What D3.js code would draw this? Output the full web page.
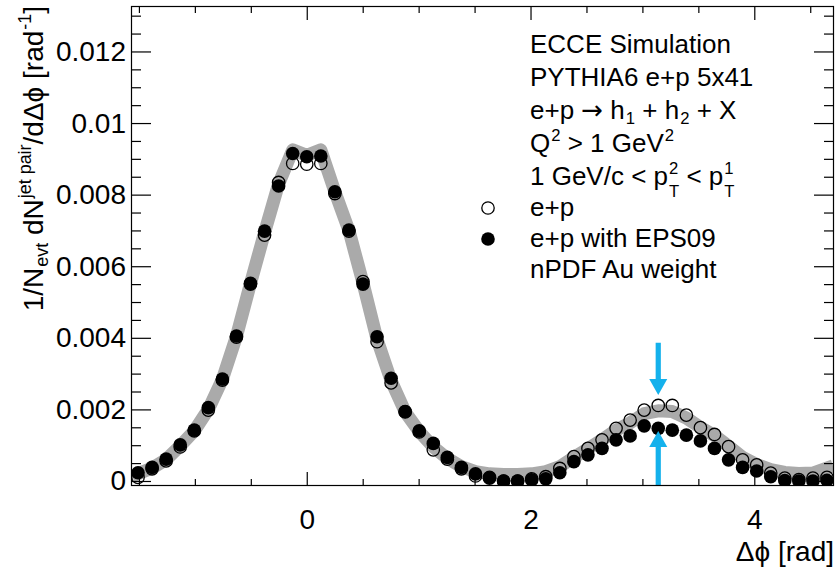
<!DOCTYPE html>
<html>
<head>
<meta charset="utf-8">
<script src="https://cdn.jsdelivr.net/npm/d3@7"></script>
<style>
  body { margin: 0; background: #fff; }
  svg { display: block; }
  text { font-family: "Liberation Sans", Arial, Helvetica, sans-serif; fill: #000; white-space: pre; }
</style>
</head>
<body>
<svg id="chart" width="836" height="571"></svg>
<script>
// Histogram binning in delta-phi: 50 bins over [-pi/2, 3pi/2]
const nBins = 50;
const phiMin = -Math.PI / 2;
const phiMax = 3 * Math.PI / 2;
const binCenters = d3.range(nBins).map(i => phiMin + (i + 0.5) * (phiMax - phiMin) / nBins);

// e+p (open circles)
const epValues = [
  0.00010, 0.00034, 0.00056, 0.00095, 0.00140, 0.00198, 0.00282, 0.00402, 0.00550, 0.00687,
  0.00834, 0.00887, 0.00885, 0.00887, 0.00803, 0.00698, 0.00557, 0.00389, 0.00274, 0.00193,
  0.00137, 0.00087, 0.00061, 0.00034, 0.00014, 0.00010, 0.00000, 0.00000, 0.00006, 0.00012,
  0.00035, 0.00068, 0.00091, 0.00115, 0.00147, 0.00170, 0.00198, 0.00211, 0.00211, 0.00184,
  0.00149, 0.00130, 0.00096, 0.00059, 0.00045, 0.00022, 0.00008, 0.00004, 0.00008, 0.00010
];

// e+p with EPS09 nPDF Au weight (filled circles)
const eps09Values = [
  0.00023, 0.00038, 0.00061, 0.00101, 0.00142, 0.00205, 0.00285, 0.00405, 0.00552, 0.00698,
  0.00824, 0.00915, 0.00906, 0.00908, 0.00808, 0.00701, 0.00550, 0.00403, 0.00287, 0.00194,
  0.00140, 0.00105, 0.00066, 0.00038, 0.00020, 0.00008, 0.00000, 0.00000, 0.00003, 0.00006,
  0.00023, 0.00054, 0.00073, 0.00091, 0.00115, 0.00126, 0.00154, 0.00147, 0.00142, 0.00128,
  0.00112, 0.00091, 0.00059, 0.00038, 0.00028, 0.00012, 0.00001, 0.00000, 0.00000, 0.00002
];

// Gray reference band drawn underneath the markers
const bandValues = [
  0.00020, 0.00036, 0.00060, 0.00098, 0.00140, 0.00200, 0.00284, 0.00404, 0.00552, 0.00694,
  0.00830, 0.00925, 0.00910, 0.00925, 0.00808, 0.00700, 0.00553, 0.00396, 0.00280, 0.00193,
  0.00138, 0.00095, 0.00063, 0.00040, 0.00026, 0.00020, 0.00018, 0.00018, 0.00020, 0.00026,
  0.00040, 0.00066, 0.00090, 0.00115, 0.00142, 0.00163, 0.00188, 0.00196, 0.00194, 0.00176,
  0.00150, 0.00127, 0.00097, 0.00066, 0.00046, 0.00032, 0.00024, 0.00021, 0.00022, 0.00036
];

// Axis ticks
const xTicksMajor = [0, 2, 4];
const xTicksMinor = [-1.5, -1, -0.5, 0.5, 1, 1.5, 2.5, 3, 3.5, 4.5];
const yTicksMajor = [0, 0.002, 0.004, 0.006, 0.008, 0.01, 0.012];
const yTicksMinor = [0.0005, 0.001, 0.0015, 0.0025, 0.003, 0.0035, 0.0045, 0.005, 0.0055,
  0.0065, 0.007, 0.0075, 0.0085, 0.009, 0.0095, 0.0105, 0.011, 0.0115, 0.0125, 0.013];
const yMin = -0.00014, yMax = 0.01327;

// Away-side arrows at delta-phi = pi
const arrowPhi = Math.PI;
const arrowDown = [0.00386, 0.00240];
const arrowUp = [yMin, 0.00140];

const svg = d3.select("#chart");
const frame = { left: 131, right: 834, top: 6, bottom: 486 };

const x = d3.scaleLinear().domain([phiMin, phiMax]).range([frame.left, frame.right]);
const y = d3.scaleLinear().domain([yMin, yMax]).range([frame.bottom, frame.top]);

svg.append("defs").append("clipPath").attr("id", "plotClip")
  .append("rect")
  .attr("x", frame.left).attr("y", frame.top)
  .attr("width", frame.right - frame.left).attr("height", frame.bottom - frame.top);

const plot = svg.append("g").attr("clip-path", "url(#plotClip)");

// gray band
plot.append("path")
  .datum(bandValues)
  .attr("fill", "none")
  .attr("stroke", "#aaaaaa")
  .attr("stroke-width", 13)
  .attr("stroke-linejoin", "round")
  .attr("stroke-linecap", "square")
  .attr("d", d3.line().x((d, i) => x(binCenters[i])).y(d => y(d)));

const markerR = 6.8;

// open markers
plot.append("g").selectAll("circle")
  .data(epValues)
  .join("circle")
  .attr("cx", (d, i) => x(binCenters[i]))
  .attr("cy", d => y(d))
  .attr("r", markerR - 0.6)
  .attr("fill", "none")
  .attr("stroke", "#000")
  .attr("stroke-width", 1.3);

// filled markers
plot.append("g").selectAll("circle")
  .data(eps09Values)
  .join("circle")
  .attr("cx", (d, i) => x(binCenters[i]))
  .attr("cy", d => y(d))
  .attr("r", markerR)
  .attr("fill", "#000");

// arrows
const arrowColor = "#14b1ec";
function drawArrow(from, to) {
  const ax = x(arrowPhi);
  const y0 = y(from), y1 = y(to);
  const dir = Math.sign(y1 - y0);
  const headLen = 16, headHalf = 9, shaftHalf = 2.6;
  const yb = y1 - dir * headLen;
  svg.append("path")
    .attr("fill", arrowColor)
    .attr("d", `M${ax - shaftHalf},${y0} L${ax + shaftHalf},${y0} L${ax + shaftHalf},${yb}
      L${ax + headHalf},${yb} L${ax},${y1} L${ax - headHalf},${yb} L${ax - shaftHalf},${yb} Z`);
}
drawArrow(arrowDown[0], arrowDown[1]);
drawArrow(arrowUp[0], arrowUp[1]);

// frame
svg.append("rect")
  .attr("x", frame.left + 0.5).attr("y", frame.top + 0.5)
  .attr("width", frame.right - frame.left - 1).attr("height", frame.bottom - frame.top - 1)
  .attr("fill", "none").attr("stroke", "#000").attr("stroke-width", 1.2);

// ticks on all four sides, pointing inward
function tickAxis(gen, transform) {
  const g = svg.append("g").attr("transform", transform).call(gen);
  g.select(".domain").remove();
  g.selectAll("line").attr("stroke", "#000").attr("stroke-width", 1.2);
  return g;
}
const labelSize = 28;
const xb = tickAxis(d3.axisBottom(x).tickValues(xTicksMajor).tickSize(-14).tickPadding(23)
  .tickFormat(d3.format("~g")), `translate(0,${frame.bottom})`);
xb.selectAll("text").attr("font-size", labelSize).attr("font-family", null);
tickAxis(d3.axisBottom(x).tickValues(xTicksMinor).tickSize(-7).tickFormat(""), `translate(0,${frame.bottom})`);
tickAxis(d3.axisTop(x).tickValues(xTicksMajor).tickSize(-14).tickFormat(""), `translate(0,${frame.top})`);
tickAxis(d3.axisTop(x).tickValues(xTicksMinor).tickSize(-7).tickFormat(""), `translate(0,${frame.top})`);

const yl = tickAxis(d3.axisLeft(y).tickValues(yTicksMajor).tickSize(-20).tickPadding(5)
  .tickFormat(d3.format("~g")), `translate(${frame.left},0)`);
yl.selectAll("text").attr("font-size", labelSize).attr("font-family", null);
tickAxis(d3.axisLeft(y).tickValues(yTicksMinor).tickSize(-10).tickFormat(""), `translate(${frame.left},0)`);
tickAxis(d3.axisRight(y).tickValues(yTicksMajor).tickSize(-20).tickFormat(""), `translate(${frame.right},0)`);
tickAxis(d3.axisRight(y).tickValues(yTicksMinor).tickSize(-10).tickFormat(""), `translate(${frame.right},0)`);

// text with sub/superscripts built from measured pieces
function richText(parent, px, py, parts, size, anchorEnd) {
  const outer = parent.append("g").attr("transform", `translate(${px},${py})`);
  const g = outer.append("g");
  const small = size * 0.64;
  let cx = 0;
  parts.forEach(p => {
    if (typeof p === "string") {
      const t = g.append("text").attr("x", cx).attr("y", 0).attr("font-size", size).text(p);
      cx += t.node().getComputedTextLength();
    } else if (p.sym !== undefined) {
      const t = g.append("text").attr("x", cx).attr("y", 0).attr("font-size", size)
        .style("font-family", "'DejaVu Sans', sans-serif").text(p.sym);
      cx += t.node().getComputedTextLength();
    } else {
      let w = 0;
      if (p.sup !== undefined) {
        const t = g.append("text").attr("x", cx + 1).attr("y", -size * 0.42).attr("font-size", small).text(p.sup);
        w = Math.max(w, t.node().getComputedTextLength() + 1);
      }
      if (p.sub !== undefined) {
        const t = g.append("text").attr("x", cx + 1)
          .attr("y", size * (p.sup !== undefined ? 0.47 : 0.18)).attr("font-size", small).text(p.sub);
        w = Math.max(w, t.node().getComputedTextLength() + 1);
      }
      cx += w;
    }
  });
  if (anchorEnd) g.attr("transform", `translate(${-cx},0)`);
  return outer;
}

// axis titles
richText(svg, frame.right, 561, ["\u0394\u03d5 [rad]"], labelSize, true);
const yTitle = richText(svg, 0, 0,
  ["1/N", { sub: "evt" }, " dN", { sup: "jet pair" }, "/d\u0394\u03d5 [rad", { sup: "-1" }, "]"], labelSize, true);
yTitle.attr("transform", `translate(43,${frame.top}) rotate(-90)`);

// legend block
const legendSize = 26;
const legendX = 530;
const legendLines = [
  { y: 53, parts: ["ECCE Simulation"] },
  { y: 86, parts: ["PYTHIA6 e+p 5x41"] },
  { y: 119, parts: ["e+p ", { sym: "\u2192" }, " h", { sub: "1" }, " + h", { sub: "2" }, " + X"] },
  { y: 152, parts: ["Q", { sup: "2" }, " > 1 GeV", { sup: "2" }] },
  { y: 185, parts: ["1 GeV/c < p", { sub: "T", sup: "2" }, " < p", { sub: "T", sup: "1" }] },
  { y: 216, parts: ["e+p"] },
  { y: 247, parts: ["e+p with EPS09"] },
  { y: 278, parts: ["nPDF Au weight"] }
];
legendLines.forEach(l => richText(svg, legendX, l.y, l.parts, legendSize, false));

svg.append("circle").attr("cx", 488).attr("cy", 208).attr("r", markerR - 0.6)
  .attr("fill", "none").attr("stroke", "#000").attr("stroke-width", 1.3);
svg.append("circle").attr("cx", 488).attr("cy", 239).attr("r", markerR).attr("fill", "#000");
</script>
</body>
</html>
